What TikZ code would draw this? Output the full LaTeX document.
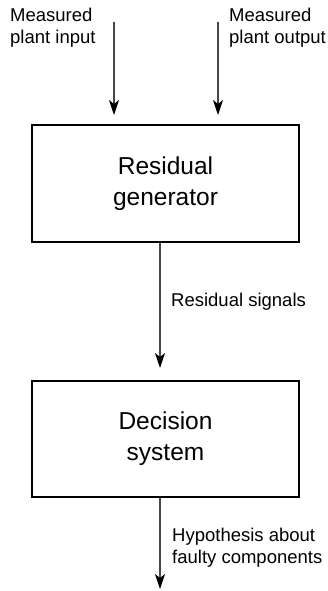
\documentclass[tikz,border=0pt]{standalone}
\usepackage{fontspec}
\setmainfont{Liberation Sans}
\usetikzlibrary{arrows.meta, positioning}

\colorlet{flowgray}{black!72}

\begin{document}
\begin{tikzpicture}[x=1pt,y=-1pt,
        block/.style={draw, line width=2pt, minimum width=267pt, minimum height=117pt,
            align=center, font=\fontsize{24.5}{31}\selectfont},
        lbl/.style={inner sep=0pt, align=left, font=\fontsize{18.5}{22.5}\selectfont},
        flow/.style={draw=flowgray, line width=1.4pt,
            -{Stealth[length=15pt,width=10pt,inset=4pt,color=black,fill=black]}}]
    \useasboundingbox (0,0) rectangle (328,591);
    \node[block] (gen) at (165.5,183.5) {Residual\\generator};
    \node[block, minimum height=116pt] (dec) [below=137pt of gen] {Decision\\system};
    \coordinate (in) at (114,22);
    \coordinate (out) at (218,22);
    \coordinate (hyp) at (160,589);
    \node[lbl, anchor=north west] (inlbl) at (10,7.5) {Measured\\plant input};
    \node[lbl, anchor=north west] (outlbl) at (229,7.5) {Measured\\plant output};
    \node[lbl, anchor=north west] (reslbl) at (171,292.5) {Residual signals};
    \node[lbl, anchor=north west] (hyplbl) at (172,527.5) {Hypothesis about\\faulty components};
    \draw[flow, shorten >=9pt] (in) -- (in |- gen.north);
    \draw[flow, shorten >=9pt] (out) -- (out |- gen.north);
    \draw[flow, shorten >=12pt] (gen.south -| hyp) -- (dec.north -| hyp);
    \draw[flow] (dec.south -| hyp) -- (hyp);
\end{tikzpicture}
\end{document}
